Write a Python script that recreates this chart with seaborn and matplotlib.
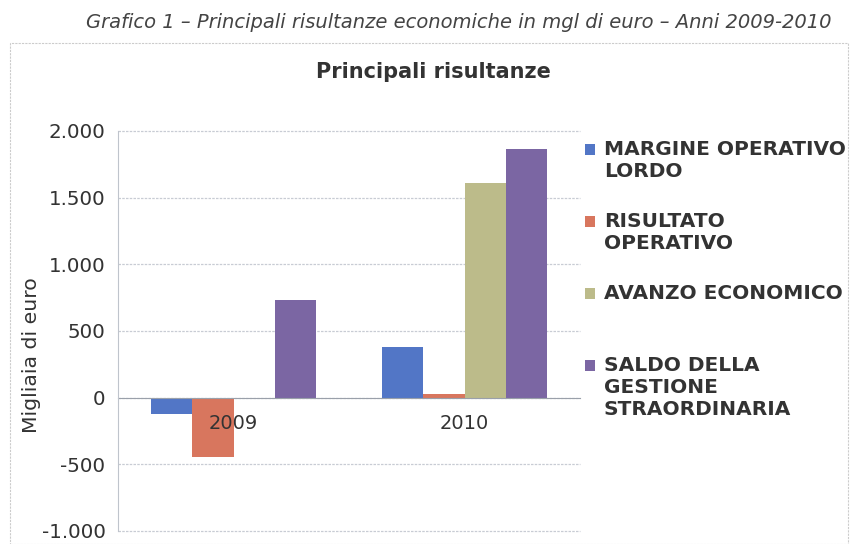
import matplotlib
matplotlib.use("Agg")
import matplotlib.pyplot as plt
from matplotlib.patches import Rectangle, Patch
from matplotlib.legend_handler import HandlerPatch
from matplotlib.ticker import FuncFormatter, FixedLocator
import seaborn as sns
import pandas as pd

years = ["2009", "2010"]
series = ["MARGINE OPERATIVO\nLORDO", "RISULTATO\nOPERATIVO", "AVANZO ECONOMICO",
          "SALDO DELLA\nGESTIONE\nSTRAORDINARIA"]
margine_operativo_lordo = [-120, 380]
risultato_operativo = [-448, 30]
avanzo_economico = [0, 1610]
saldo_gestione_straordinaria = [735, 1862]
colors = ["#5276C6", "#D8765E", "#BCBB8A", "#7B66A3"]

values = [margine_operativo_lordo, risultato_operativo, avanzo_economico, saldo_gestione_straordinaria]
rows = []
for s, vals in zip(series, values):
    for y, v in zip(years, vals):
        rows.append({"Anno": y, "Voce": s, "Valore": v})
df = pd.DataFrame(rows)

sns.set_style("white")
plt.rcParams["font.family"] = ["DejaVu Sans"]

fig = plt.figure(figsize=(8.51, 5.44), dpi=100)
W, H = 851, 544
ax = fig.add_axes([118 / W, 1 - 531 / H, (580 - 118) / W, (531 - 131) / H])

sns.barplot(data=df, x="Anno", y="Valore", hue="Voce", palette=colors,
            width=0.71, ax=ax, saturation=1, legend=False,
            edgecolor="none", linewidth=0)

ax.set_ylim(-1000, 2000)
ax.set_xlim(-0.5, 1.5)
ax.yaxis.set_major_locator(FixedLocator([-1000, -500, 0, 500, 1000, 1500, 2000]))
ax.yaxis.set_major_formatter(FuncFormatter(lambda v, p: f"{int(v):,}".replace(",", ".")))
ax.grid(axis="y", color="#C8CCD4", linewidth=0.9, linestyle=(0, (2, 1)))
ax.set_axisbelow(True)
ax.xaxis.set_zorder(5)
for sp in ["top", "right"]:
    ax.spines[sp].set_visible(False)
ax.spines["left"].set_color("#BFC4CC")
ax.spines["bottom"].set_position(("data", 0))
ax.spines["bottom"].set_color("#9AA0AA")
ax.spines["bottom"].set_zorder(1)
ax.tick_params(axis="y", labelsize=14.3, colors="#333333", length=4, color="#BFC4CC", pad=5)
ax.tick_params(axis="x", labelsize=14, colors="#333333", length=0, pad=12)
ax.set_xticks([-0.5, 0.5, 1.5], minor=True)
ax.tick_params(axis="x", which="minor", length=5, color="#9AA0AA", direction="out")
ax.set_xlabel("")
ax.set_ylabel("Migliaia di euro", fontsize=14.7, color="#333333")
ax.yaxis.set_label_coords(-0.166, 0.44)

# legend: every entry takes three text lines so that entries are evenly spaced
LEG_FS = 14.5
PITCH_PT = 22.6 * 72 / 100


def make_patch(legend, orig_handle, xdescent, ydescent, width, height, fontsize):
    n = orig_handle.get_label().count("\n")
    return Rectangle((-xdescent, -ydescent + n * PITCH_PT / 2), width, height)


def pad_label(s, n=3):
    return s + "\n" * (n - 1 - s.count("\n")) if s.count("\n") < n - 1 else s


handles = [Patch(facecolor=c, edgecolor="none", label=pad_label(s)) for c, s in zip(colors, series)]
leg = ax.legend(handles=handles, loc="upper left", bbox_to_anchor=(567 / W, 1 - 122 / H),
                bbox_transform=fig.transFigure, frameon=False,
                prop={"weight": "bold", "size": LEG_FS}, labelcolor="#333333",
                handlelength=0.5, handleheight=0.5, handletextpad=0.42,
                labelspacing=0.45,
                handler_map={Patch: HandlerPatch(patch_func=make_patch)})

fig.text(433 / W, 1 - 72 / H, "Principali risultanze", ha="center", va="center",
         fontsize=15, fontweight="bold", color="#333333")
fig.text(832 / W, 1 - 22 / H, "Grafico 1 – Principali risultanze economiche in mgl di euro – Anni 2009-2010",
         ha="right", va="center", fontsize=14, style="italic", color="#444444")
fig.patches.append(Rectangle((10 / W, 0.0), (848 - 10) / W, 1 - 43 / H - 0.0,
                             transform=fig.transFigure, fill=False,
                             edgecolor="#CCCCCC", linewidth=0.8, linestyle=(0, (2, 1))))

fig.canvas.draw()
for gl in ax.yaxis.get_gridlines():
    gl.set_clip_on(False)

fig.savefig("out.png", dpi=100)
